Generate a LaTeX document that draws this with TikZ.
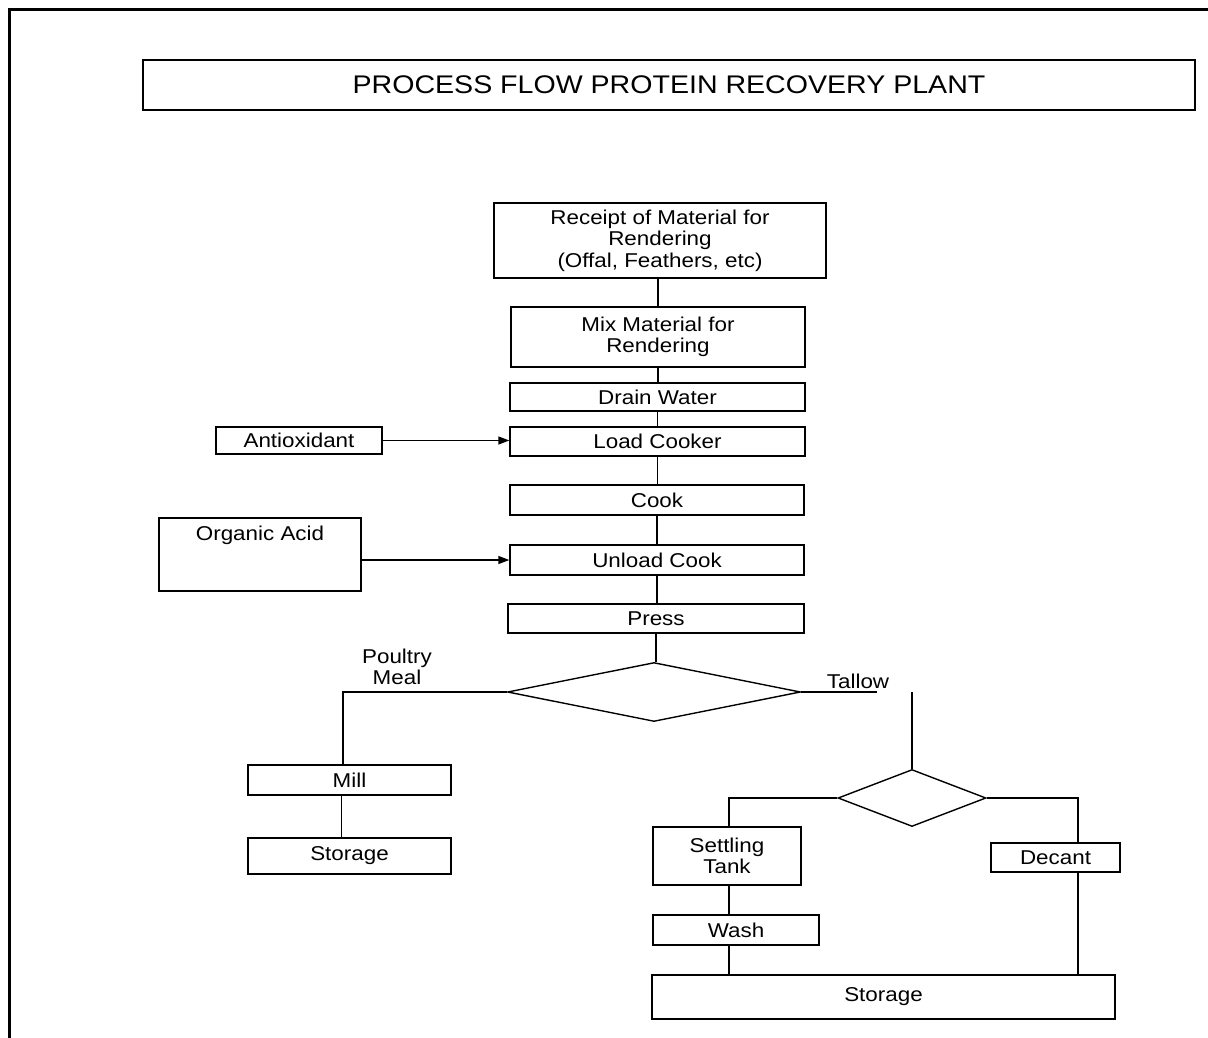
\documentclass[tikz,border=0pt]{standalone}
\usepackage{fontspec}
\setmainfont[FakeStretch=1.12]{Liberation Sans}
\usetikzlibrary{shapes.geometric,arrows.meta}
\newcommand\bodyfs{\fontsize{20}{21.5}\selectfont}
\newcommand\titlefs{\fontsize{25.5}{28}\selectfont}
\tikzset{
  box/.style={draw, line width=1.4pt, inner sep=0pt, align=center, font=\bodyfs},
  dia/.style={draw, diamond, line width=1.4pt, inner sep=0pt},
  conn/.style={line width=1.4pt},
  arr/.style={line width=1.4pt, -{Triangle[length=11pt,width=8pt]}},
  lbl/.style={font=\bodyfs, align=center, inner sep=0pt}
}
\begin{document}
\begin{tikzpicture}[x=1pt,y=-1pt]
\useasboundingbox (0,0) rectangle (1208,1038);
\fill[white] (0,0) rectangle (1208,1038);
% outer frame (top and left edges)
\draw[line width=3pt] (9,1038) -- (9,10) -- (1208,10);

\node[box, font=\titlefs, minimum width=1052, minimum height=50] (title) at (669,85) {PROCESS FLOW PROTEIN RECOVERY PLANT};

\node[box, minimum width=332, minimum height=75] (receipt) at (660,240.5) {Receipt of Material for\\Rendering\\(Offal, Feathers, etc)};
\node[box, minimum width=294, minimum height=60] (mix) at (658,337) {Mix Material for\\Rendering};
\node[box, minimum width=295, minimum height=28] (drain) at (657.5,397) {Drain Water};
\node[box, minimum width=295, minimum height=29] (load) at (657.5,441.5) {Load Cooker};
\node[box, minimum width=166, minimum height=27] (anti) at (299,440.5) {Antioxidant};
\node[box, minimum width=294, minimum height=30] (cook) at (657,500) {Cook};
\node[box, minimum width=202, minimum height=73,
      label={[lbl, anchor=north, yshift=-9pt]north:Organic Acid}] (oa) at (260,554.5) {};
\node[box, minimum width=294, minimum height=30] (unload) at (657,560) {Unload Cook};
\node[box, minimum width=296, minimum height=29] (press) at (656,618.5) {Press};
\node[dia, minimum width=293, minimum height=59] (d1) at (654,692) {};

\node[lbl] (pm) at (397,667) {Poultry\\Meal};
\node[lbl] (tallow) at (858,681) {Tallow};

\node[box, minimum width=203, minimum height=30] (mill) at (349.5,780) {Mill};
\node[box, minimum width=203, minimum height=36] (storeL) at (349.5,856) {Storage};

\node[dia, minimum width=148, minimum height=57] (d2) at (912,798) {};
\node[box, minimum width=148, minimum height=58] (settle) at (727,856) {Settling\\Tank};
\node[box, minimum width=129, minimum height=29] (decant) at (1055.5,857.5) {Decant};
\node[box, minimum width=166, minimum height=30] (wash) at (736,930) {Wash};
\node[box, minimum width=463, minimum height=44] (storeR) at (883.5,997) {Storage};

% main spine
\draw[conn] (receipt.south -| mix.north) -- (mix.north);
\draw[conn] (mix.south) -- (mix.south |- drain.north);
\draw[conn] (drain.south) -- (drain.south |- load.north);
\draw[conn] (load.south) -- (load.south |- cook.north);
\draw[conn] (cook.south) -- (cook.south |- unload.north);
\draw[conn] (unload.south) -- (unload.south |- press.north);
\draw[conn] (press.south) -- (press.south |- d1.north);

% inputs
\draw[arr] (anti.east) -- (anti.east -| load.west);
\draw[arr] (unload.west -| oa.east) -- (unload.west);

% poultry meal branch
\draw[conn] (d1.west) -| ([xshift=-6.5pt]mill.north);
\draw[conn] ([xshift=-8pt]mill.south) -- ([xshift=-8pt]storeL.north);

% tallow branch
\draw[conn] (d1.east) -- ++(76,0);
\draw[conn] (d2.north) -- ++(0,-77);
\draw[conn] (d2.west) -| ([xshift=2pt]settle.north);
\draw[conn] (d2.east) -| ([xshift=22.5pt]decant.north);
\draw[conn] ([xshift=2pt]settle.south) -- ([xshift=2pt]settle.south |- wash.north);
\draw[conn] ([xshift=2pt]settle.south |- wash.south) -- ([xshift=2pt]settle.south |- storeR.north);
\draw[conn] ([xshift=22.5pt]decant.south) -- ([xshift=22.5pt]decant.south |- storeR.north);
\end{tikzpicture}
\end{document}
